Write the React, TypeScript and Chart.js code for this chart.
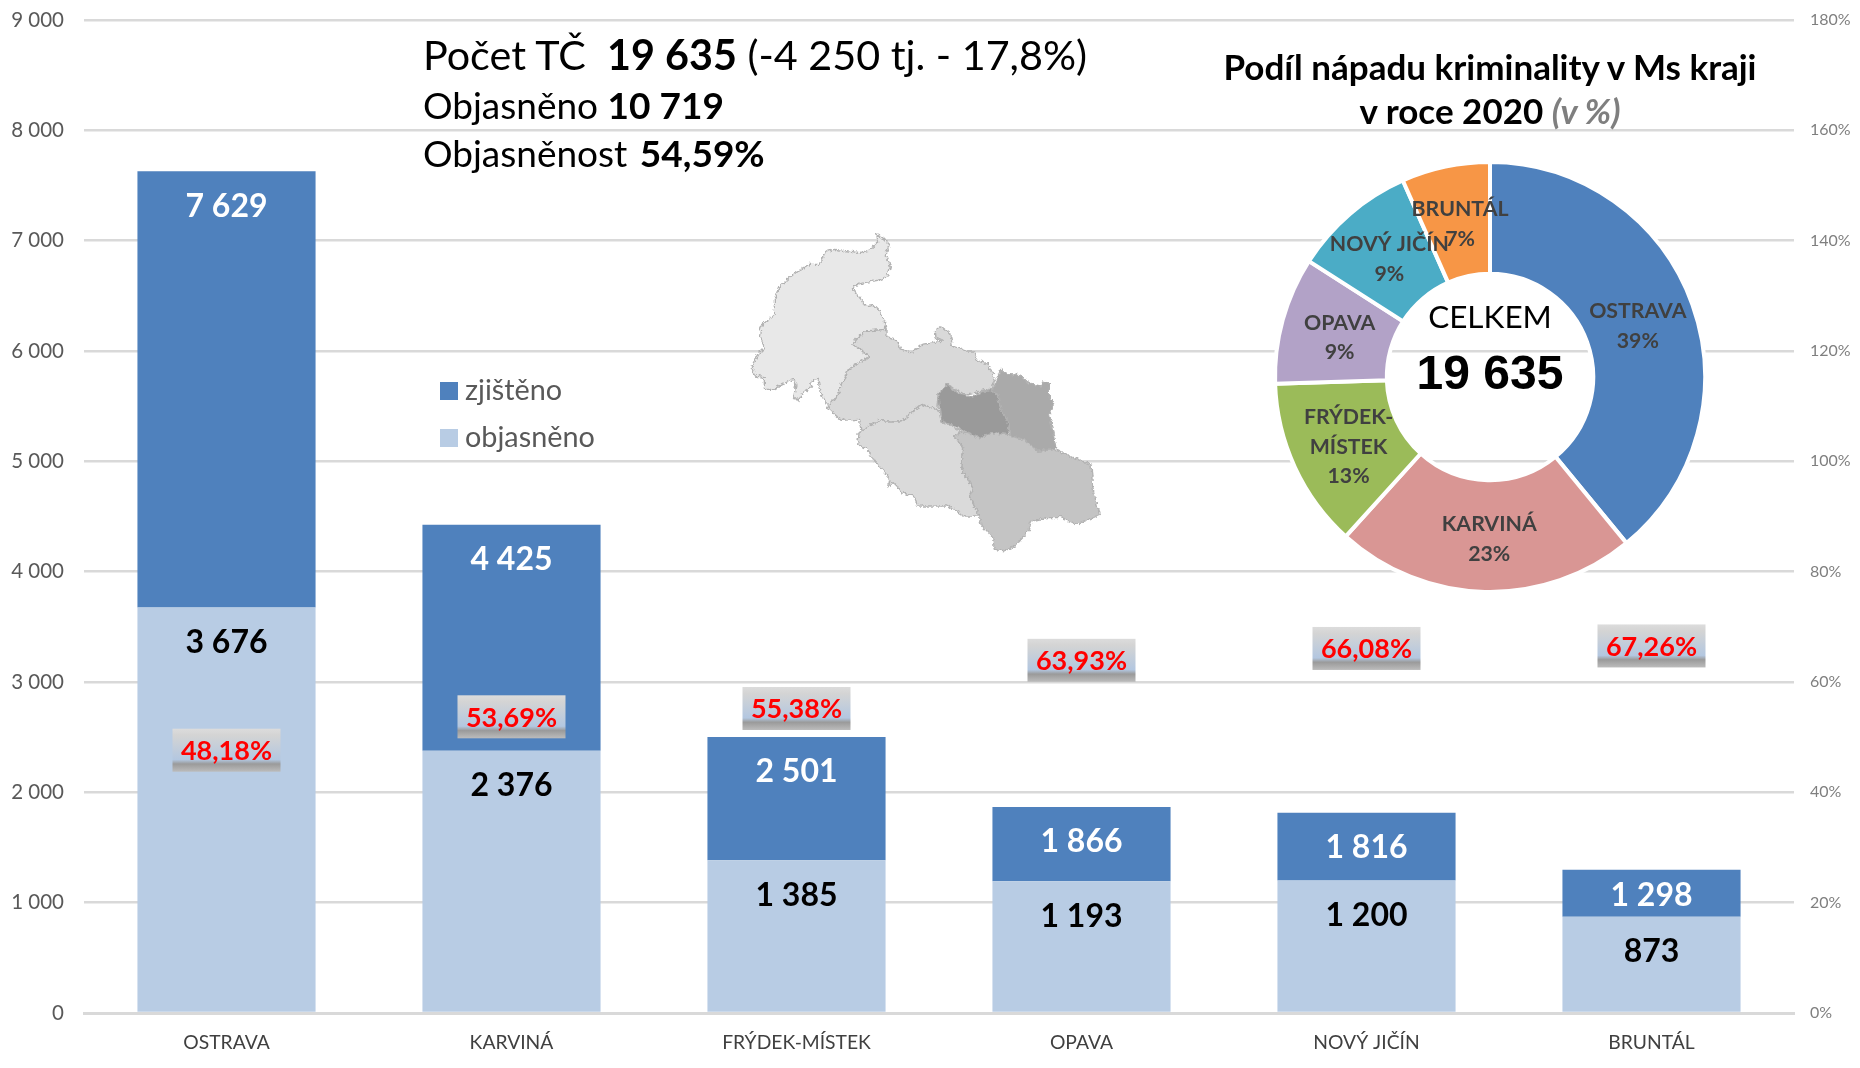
import React, { useEffect, useRef } from "react";
import { Chart, registerables } from "chart.js";

Chart.register(...registerables);

const categories = ["OSTRAVA", "KARVINÁ", "FRÝDEK-MÍSTEK", "OPAVA", "NOVÝ JIČÍN", "BRUNTÁL"];
const zjisteno = [7629, 4425, 2501, 1866, 1816, 1298];
const objasneno = [3676, 2376, 1385, 1193, 1200, 873];
const objasnenost = [48.18, 53.69, 55.38, 63.93, 66.08, 67.26];
const objasnenostLabels = ["48,18%", "53,69%", "55,38%", "63,93%", "66,08%", "67,26%"];
const podil = [39, 23, 13, 9, 9, 7];
const podilLabels = [["OSTRAVA"], ["KARVINÁ"], ["FRÝDEK-", "MÍSTEK"], ["OPAVA"], ["NOVÝ JIČÍN"], ["BRUNTÁL"]];
const podilColors = ["#4f81bd", "#d99694", "#9bbb59", "#b2a2c7", "#4bacc6", "#f79646"];

const FONT = "Lato, 'Open Sans', sans-serif";
const spaced = (v: number) => {
  const s = String(v);
  return s.length > 3 ? s.slice(0, -3) + " " + s.slice(-3) : s;
};

const regions: { fill: string; pts: number[][] }[] = [
  { fill: "#e8e8e8", pts: [[438,42],[455,50],[475,70],[465,100],[478,135],[470,165],[440,178],[400,185],[365,195],[372,215],[390,235],[400,255],[425,250],[445,270],[460,300],[465,325],[420,330],[400,330],[380,350],[365,370],[385,385],[415,405],[390,425],[350,445],[340,480],[325,510],[300,550],[285,548],[268,515],[260,472],[245,475],[240,500],[215,515],[200,540],[188,525],[195,490],[185,475],[150,490],[125,505],[100,505],[100,470],[75,465],[60,440],[80,400],[100,380],[85,350],[90,315],[130,280],[130,235],[145,195],[190,155],[235,130],[265,130],[280,95],[310,85],[350,90],[385,95],[420,85],[440,65]] },
  { fill: "#d9d9d9", pts: [[465,325],[400,330],[365,370],[385,385],[415,405],[350,445],[325,510],[290,560],[330,598],[385,595],[390,628],[440,600],[510,600],[570,550],[620,565],[625,515],[650,490],[700,520],[780,505],[790,470],[770,430],[735,415],[730,390],[705,390],[665,375],[655,335],[630,315],[610,330],[612,350],[635,360],[575,370],[540,395],[510,385],[495,355],[465,345]] },
  { fill: "#dadada", pts: [[385,630],[440,600],[510,600],[575,550],[625,570],[630,600],[690,630],[670,645],[695,680],[690,740],[725,800],[715,825],[745,885],[700,885],[650,855],[560,855],[550,825],[510,815],[490,785],[470,795],[475,770],[430,720],[410,685],[380,670]] },
  { fill: "#c4c4c4", pts: [[690,630],[745,650],[780,635],[830,640],[880,655],[920,690],[975,685],[1025,710],[1080,730],[1085,800],[1105,880],[1035,910],[990,890],[945,890],[900,900],[895,925],[850,975],[825,990],[790,985],[785,950],[750,910],[745,885],[715,825],[725,800],[690,740],[695,680],[670,645]] },
  { fill: "#aaaaaa", pts: [[810,445],[835,460],[870,465],[900,490],[930,495],[935,480],[955,485],[955,535],[970,545],[955,575],[975,685],[920,690],[880,655],[835,645],[835,610],[810,570],[800,520],[780,510]] },
  { fill: "#9a9a9a", pts: [[650,490],[680,515],[720,525],[775,505],[800,525],[810,570],[835,610],[830,640],[780,635],[745,650],[700,630],[660,610],[630,600],[620,515]] },
];

// The reference's percentage labels were hand-nudged; these are pixel shifts, not values.
const pctNudge = [3, 0, 1, 0, 0, 4];

export default function App() {
  const barRef = useRef<HTMLCanvasElement>(null);
  const pieRef = useRef<HTMLCanvasElement>(null);

  useEffect(() => {
    document.body.style.margin = "0";
    const barLabels = {
      id: "barLabels",
      afterDraw(chart: any) {
        const { ctx } = chart;
        const top = chart.getDatasetMeta(0).data;
        const low = chart.getDatasetMeta(1).data;
        const pct = chart.getDatasetMeta(2).data;
        ctx.save();
        ctx.textAlign = "center";
        ctx.textBaseline = "middle";
        top.forEach((el: any, i: number) => {
          const segTop = el.y;
          const segLow = low[i].y;
          ctx.font = `bold 32px ${FONT}`;
          ctx.fillStyle = "#ffffff";
          ctx.fillText(spaced(zjisteno[i]), el.x, segTop + Math.min(33, (segLow - segTop) / 2) + 2);
          ctx.fillStyle = "#000000";
          ctx.fillText(spaced(objasneno[i]), el.x, segLow + 35);
        });
        pct.forEach((el: any, i: number) => {
          const w = 108, h = 43;
          const cy = el.y + pctNudge[i];
          const x = el.x - w / 2, y = cy - h / 2;
          const g = ctx.createLinearGradient(0, y, 0, y + h);
          g.addColorStop(0, "#dcdcdc");
          g.addColorStop(0.15, "#d4d4d4");
          g.addColorStop(0.72, "#b3c7e0");
          g.addColorStop(0.82, "#9a9a9a");
          g.addColorStop(1, "#bcbcbc");
          ctx.fillStyle = g;
          ctx.fillRect(x, y, w, h);
          ctx.font = `bold 27px ${FONT}`;
          ctx.fillStyle = "#ff0000";
          ctx.fillText(objasnenostLabels[i], el.x, cy + 1);
        });
        ctx.restore();
      },
    };

    const bar = new Chart(barRef.current!, {
      type: "bar",
      data: {
        labels: categories,
        datasets: [
          { label: "zjištěno", data: zjisteno.map((v, i) => [objasneno[i], v]), backgroundColor: "#4f81bd", order: 2 },
          { label: "objasněno", data: objasneno, backgroundColor: "#b8cce4", order: 1 },
          { label: "objasněnost", type: "line", data: objasnenost, yAxisID: "y1", showLine: false, pointRadius: 0, order: 0 },
        ] as any,
      },
      options: {
        responsive: false,
        animation: false,
        layout: { padding: { top: 20, left: 0, right: 0, bottom: 0 } },
        datasets: { bar: { categoryPercentage: 1, barPercentage: 0.625 } } as any,
        plugins: { legend: { display: false }, tooltip: { enabled: false } },
        scales: {
          x: {
            stacked: true,
            grid: { display: false, drawTicks: false },
            border: { color: "#d9d9d9", width: 3 },
            ticks: { color: "#404040", font: { family: FONT, size: 19.3 }, padding: 18, maxRotation: 0 },
            afterFit: (s: any) => { s.height = 55; s.paddingLeft = 0; s.paddingRight = 0; },
          },
          y: {
            min: 0,
            max: 9000,
            grid: { color: "#d9d9d9", lineWidth: 2.5, drawTicks: false },
            border: { display: false },
            ticks: { stepSize: 1000, color: "#595959", padding: 20, font: { family: FONT, size: 20.5 }, callback: (v: any) => spaced(v) },
            afterFit: (s: any) => { s.width = 84; s.paddingTop = 0; s.paddingBottom = 0; },
          },
          y1: {
            position: "right",
            min: 0,
            max: 180,
            grid: { display: false, drawTicks: false },
            border: { display: false },
            ticks: { stepSize: 20, color: "#7f7f7f", padding: 16, font: { family: FONT, size: 16 }, callback: (v: any) => v + "%" },
            afterFit: (s: any) => { s.width = 66; s.paddingTop = 0; s.paddingBottom = 0; },
          },
        },
      } as any,
      plugins: [barLabels],
    });

    const pieLabels = {
      id: "pieLabels",
      afterDraw(chart: any) {
        const { ctx } = chart;
        const arcs = chart.getDatasetMeta(0).data;
        ctx.save();
        ctx.textAlign = "center";
        ctx.textBaseline = "middle";
        ctx.font = `bold 21.3px ${FONT}`;
        ctx.fillStyle = "#404040";
        arcs.forEach((a: any, i: number) => {
          const c = a.getCenterPoint();
          const lines = [...podilLabels[i], podil[i] + "%"];
          lines.forEach((t, k) => {
            ctx.fillText(t, c.x + (i === 0 ? -2 : 3), c.y + 3 + (k - (lines.length - 1) / 2) * 29.6);
          });
        });
        ctx.restore();
      },
    };

    const pie = new Chart(pieRef.current!, {
      type: "doughnut",
      data: {
        labels: categories,
        datasets: [{ data: zjisteno, backgroundColor: podilColors, borderColor: "#ffffff", borderWidth: 4 }],
      },
      options: {
        responsive: false,
        animation: false,
        cutout: "48%",
        layout: { padding: 1 },
        plugins: { legend: { display: false }, tooltip: { enabled: false } },
      } as any,
      plugins: [pieLabels],
    });

    return () => {
      bar.destroy();
      pie.destroy();
    };
  }, []);

  const abs = (left: number, top: number, extra: React.CSSProperties = {}): React.CSSProperties => ({
    position: "absolute",
    left,
    top,
    whiteSpace: "nowrap",
    fontFamily: FONT,
    color: "#000",
    ...extra,
  });

  return (
    <div style={{ position: "relative", width: 1860, height: 1068, background: "#fff", overflow: "hidden" }}>
      <canvas ref={barRef} width={1860} height={1068} style={{ position: "absolute", left: 0, top: 0 }} />
      <svg width={400} height={350} viewBox="0 0 1200 1050" style={{ position: "absolute", left: 730, top: 220 }}>
        <defs>
          <filter id="rough" x="-5%" y="-5%" width="110%" height="110%">
            <feTurbulence type="turbulence" baseFrequency="0.06" numOctaves="2" seed="4" result="n" />
            <feDisplacementMap in="SourceGraphic" in2="n" scale="14" xChannelSelector="R" yChannelSelector="G" />
          </filter>
        </defs>
        <g filter="url(#rough)">
          {regions.map((r, i) => (
            <polygon key={i} points={r.pts.map((p) => p.join(",")).join(" ")} fill={r.fill} stroke="#b2b2b2" strokeWidth={4} strokeLinejoin="round" />
          ))}
        </g>
      </svg>
      <canvas ref={pieRef} width={436} height={436} style={{ position: "absolute", left: 1272, top: 159 }} />

      <div style={abs(423, 29, { fontSize: 41.3 })}>Počet TČ&nbsp; <b>19 635</b> (-4 250 tj. - 17,8%)</div>
      <div style={abs(423, 82, { fontSize: 37 })}>Objasněno <b>10 719</b></div>
      <div style={abs(423, 130, { fontSize: 37 })}>Objasněnost <b style={{ marginLeft: 3 }}>54,59%</b></div>

      <div style={abs(1160, 44, { width: 660, textAlign: "center", fontSize: 35, fontWeight: 700, lineHeight: "44px" })}>
        Podíl nápadu kriminality v Ms kraji
        <br />v roce 2020 <i style={{ color: "#7f7f7f" }}>(v %)</i>
      </div>

      <div style={abs(1390, 297, { width: 200, textAlign: "center", fontSize: 31.5, color: "#000" })}>CELKEM</div>
      <div style={abs(1390, 345, { width: 200, textAlign: "center", fontSize: 48, fontWeight: 700, fontFamily: "'Liberation Sans', sans-serif" })}>19 635</div>

      <div style={abs(440, 382, { width: 18, height: 18, background: "#4f81bd" })} />
      <div style={abs(465, 372, { fontSize: 28.8, color: "#595959", lineHeight: "34px" })}>zjištěno</div>
      <div style={abs(440, 429, { width: 18, height: 18, background: "#b8cce4" })} />
      <div style={abs(465, 419, { fontSize: 28.8, color: "#595959", lineHeight: "34px" })}>objasněno</div>
    </div>
  );
}
